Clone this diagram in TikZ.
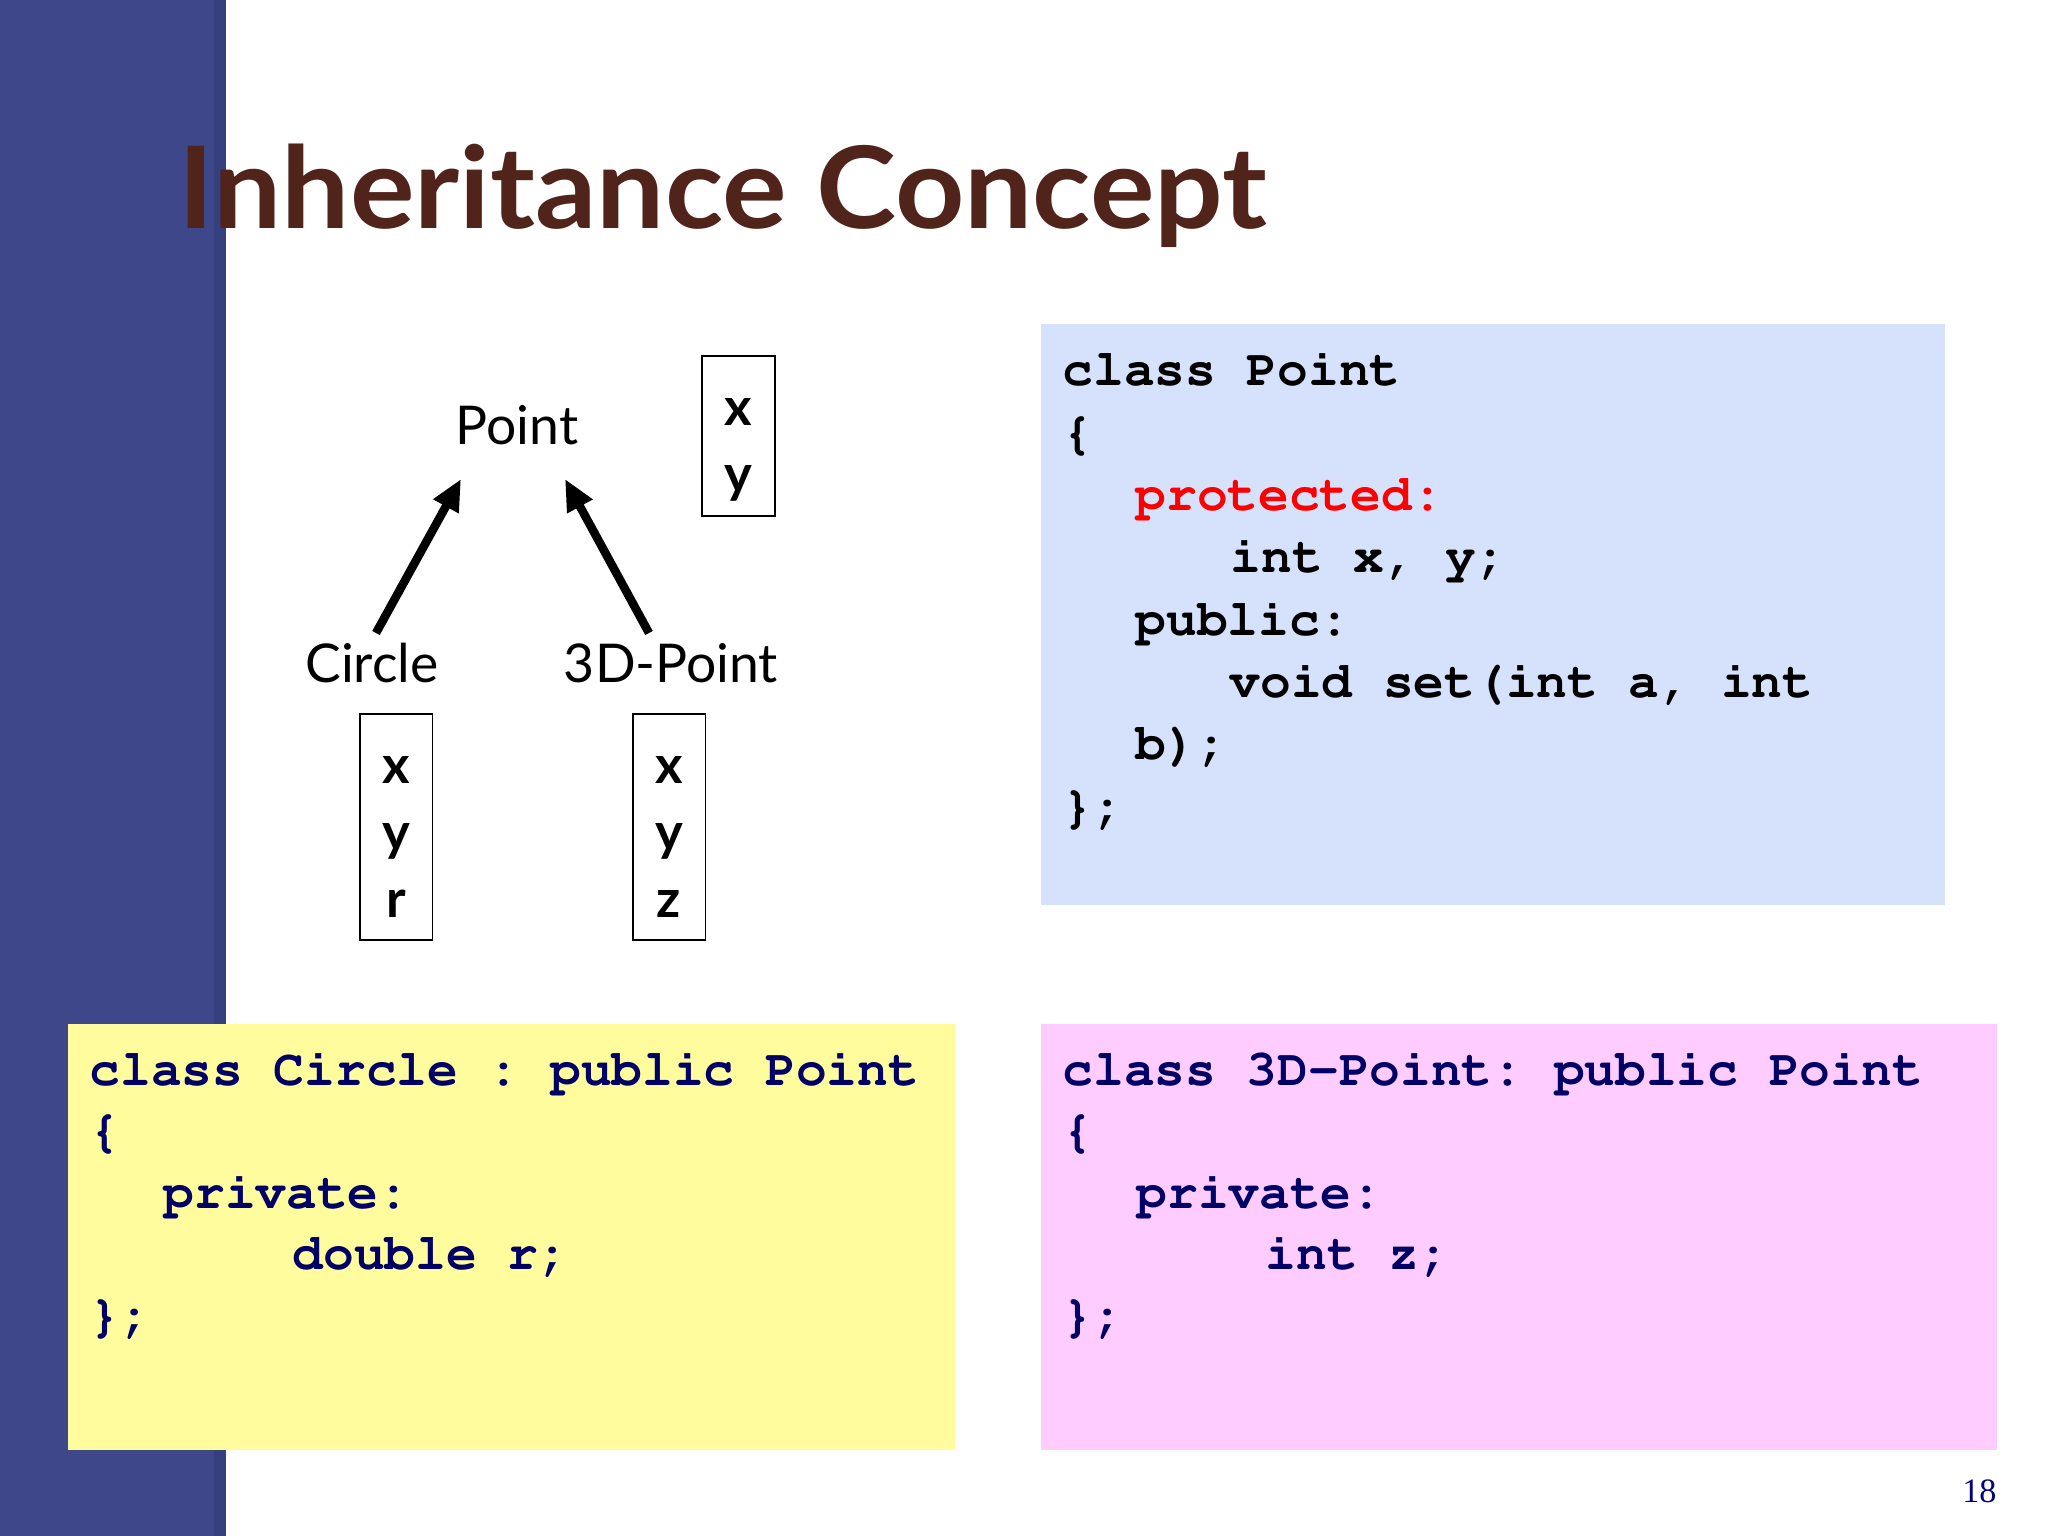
\documentclass[tikz,border=0pt]{standalone}
\usepackage[T1]{fontenc}
\usepackage{fontspec}
\setmainfont{Lato}
\newfontfamily\pagefont{Liberation Serif}
\newcommand{\mycodefont}{\fontencoding{T1}\fontfamily{pcr}\fontseries{b}\selectfont\frenchspacing}
\usetikzlibrary{arrows.meta}
\definecolor{barblue}{HTML}{3E478A}
\definecolor{bardark}{HTML}{37407E}
\definecolor{titlebrown}{HTML}{50241A}
\definecolor{boxblue}{HTML}{D6E2FC}
\definecolor{boxyellow}{HTML}{FFFC9D}
\definecolor{boxpink}{HTML}{FFCCFF}
\definecolor{codenavy}{HTML}{000066}
\definecolor{pagenavy}{HTML}{000080}
\definecolor{kwred}{HTML}{FF0000}
\tikzset{
  titletext/.style={font=\fontsize{40}{40}\selectfont\bfseries, text=titlebrown, anchor=base west, inner sep=0pt},
  label/.style={font=\fontsize{18.8}{18.8}\selectfont, anchor=base, inner sep=0pt},
  varletter/.style={font=\fontsize{18.5}{18.5}\selectfont\bfseries, anchor=base, inner sep=0pt},
  varbox/.style={draw=black, line width=0.7pt, inner sep=0pt},
  arr/.style={line width=3pt, -{Triangle[length=11pt,width=9.5pt]}},
  code/.style={font=\fontsize{18}{18}\mycodefont, anchor=base west, inner sep=0pt},
  codeblk/.style={code, text=black},
  codenv/.style={code, text=codenavy},
}
\begin{document}
\begin{tikzpicture}[x=0.3515625pt, y=-0.3515625pt]
\useasboundingbox (0,0) rectangle (2048,1536);
% background and side bar
\fill[white] (0,0) rectangle (2048,1536);
\fill[barblue] (0,0) rectangle (226,1536);
\fill[bardark] (214,0) rectangle (226,1536);
% title
\node[titletext] (title) at (178,229) {\scalebox{1.063}[1]{Inheritance Concept}};
% coloured code boxes
\fill[boxblue] (1041,324) rectangle (1945,905);
\fill[boxyellow] (68,1024) rectangle (955,1450);
\fill[boxpink] (1041,1024) rectangle (1997,1450);
% diagram labels
\node[label] (point) at (517,445) {Point};
\node[label] (circle) at (372,683) {Circle};
\node[label] (tdpoint) at (671,683) {3D-Point};
% variable boxes
\node[varbox, minimum width=25.66pt, minimum height=56.25pt] (pbox) at (738.5,436) {};
\node[varletter] (px) at (738.5,426) {x};
\node[varletter] (py) at (738.5,493) {y};
\node[varbox, minimum width=25.66pt, minimum height=79.45pt] (cbox) at (396,827) {};
\node[varletter] (cx) at (396,783) {x};
\node[varletter] (cy) at (396,850) {y};
\node[varletter] (cr) at (396,917) {r};
\node[varbox, minimum width=25.66pt, minimum height=79.45pt] (dbox) at (669,827) {};
\node[varletter] (dx) at (669,783) {x};
\node[varletter] (dy) at (669,850) {y};
\node[varletter] (dz) at (669,917) {z};
% arrows
\coordinate (ctail) at (376,633);
\coordinate (ctip) at (461,479);
\coordinate (dtail) at (649,633);
\coordinate (dtip) at (565,479);
\draw[arr] (ctail) -- (ctip);
\draw[arr] (dtail) -- (dtip);
% class Point
\node[codeblk] (b1) at (1062,386) {class Point};
\node[codeblk] (b2) at (1062,448.3) {\{};
\node[code, text=kwred] (b3) at (1135,510.6) {protected:};
\node[codeblk] (b4) at (1230,572.9) {int x, y;};
\node[codeblk] (b5) at (1135,635.2) {public:};
\node[codeblk] (b6) at (1229,697.5) {void set(int a, int};
\node[codeblk] (b7) at (1135,759.8) {b);};
\node[codeblk] (b8) at (1062,822.1) {\};};
% class Circle
\node[codenv] (y1) at (89,1085) {class Circle : public Point};
\node[codenv] (y2) at (89,1146.5) {\{};
\node[codenv] (y3) at (163,1208) {private:};
\node[codenv] (y4) at (292,1269.5) {double r;};
\node[codenv] (y5) at (89,1331) {\};};
% class 3D-Point
\node[codenv] (k1) at (1062,1085) {class 3D-Point: public Point};
\node[codenv] (k2) at (1062,1146.5) {\{};
\node[codenv] (k3) at (1136,1208) {private:};
\node[codenv] (k4) at (1265,1269.5) {int z;};
\node[codenv] (k5) at (1062,1331) {\};};
% page number
\node[font=\fontsize{12}{12}\selectfont\pagefont, text=pagenavy, anchor=base east, inner sep=0pt] (pnum) at (1997,1502) {18};
\end{tikzpicture}
\end{document}
